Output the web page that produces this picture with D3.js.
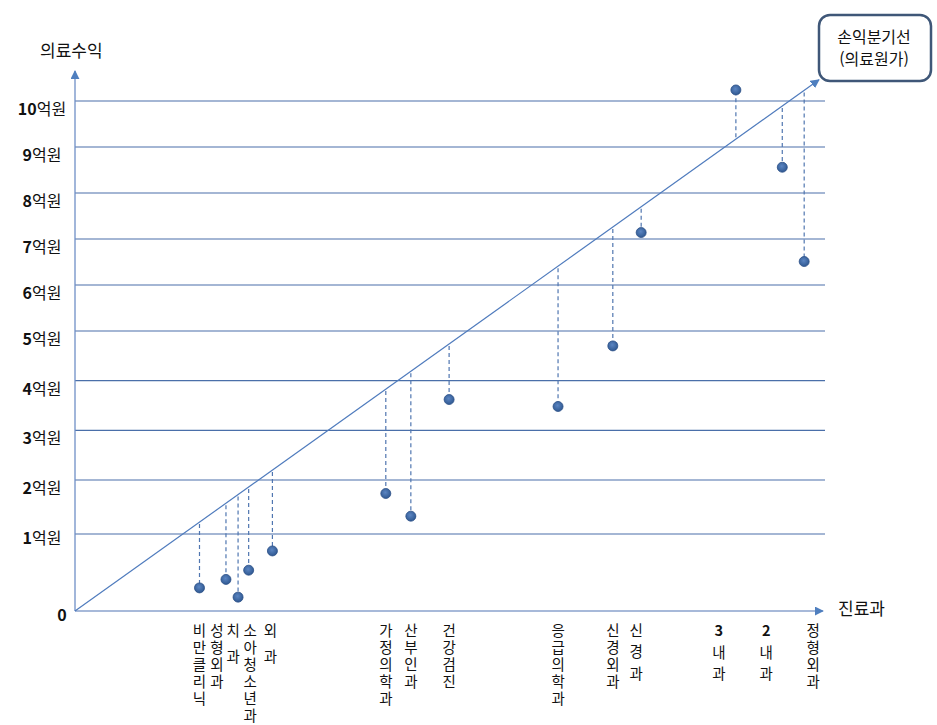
<!DOCTYPE html>
<html lang="ko">
<head>
<meta charset="utf-8">
<title>손익분기선</title>
<script src="https://d3js.org/d3.v7.min.js"></script>
<style>
body { margin: 0; background: #fff; }
text { font-family: "Noto Sans CJK KR", "Noto Sans", sans-serif; fill: #111; }
.vlabel { writing-mode: vertical-rl; text-orientation: upright; }
</style>
</head>
<body>
<div id="chart"></div>
<script>
// 진료과 (x 축 순서대로), 세로쓰기
const departments = ["비만클리닉", "성형외과", "치과", "소아청소년과", "외과",
  "가정의학과", "산부인과", "건강검진", "응급의학과", "신경외과", "신경과",
  "3내과", "2내과", "정형외과"];
// 의료원가 (억원) = 손익분기선 위 위치
const costs = [1.22, 1.57, 1.73, 1.87, 2.20, 3.83, 4.19, 4.74, 6.41, 7.26, 7.70, 9.17, 9.89, 10.23];
// 의료수익 (억원)
const revenues = [0.30, 0.41, 0.18, 0.53, 0.78, 1.75, 1.33, 3.62, 3.48, 4.70, 7.14, 10.24, 8.56, 6.51];
const yTicks = [0, 1, 2, 3, 4, 5, 6, 7, 8, 9, 10];
const lineEnd = 10.46;   // 손익분기선 화살표 끝

const width = 937, height = 725;
const x0 = 75, xAxisEnd = 823, gridEnd = 825, diagEndX = 819;

const svg = d3.select("#chart").append("svg")
  .attr("width", width).attr("height", height);

// 세로축 눈금 간격이 일정하지 않아 구간별 선형 스케일 사용
const y = d3.scaleLinear()
  .domain([0, 1, 2, 5, 10])
  .range([611, 534, 480, 331, 101]);

const y0 = y(0), yEnd = y(lineEnd);
// 손익분기선 위 원가 위치 -> x 픽셀
const x = d3.scaleLinear()
  .domain([y0, yEnd])
  .range([x0, diagEndX]);
const xOf = c => x(y(c));

const defs = svg.append("defs");
defs.append("marker").attr("id", "arr")
  .attr("viewBox", "0 0 10 10").attr("refX", 9).attr("refY", 5)
  .attr("markerWidth", 9).attr("markerHeight", 9)
  .attr("markerUnits", "userSpaceOnUse")
  .attr("orient", "auto")
  .append("path").attr("d", "M0,0L10,5L0,10z").attr("fill", "#4f7fbf");

const grad = defs.append("radialGradient").attr("id", "dot")
  .attr("cx", "45%").attr("cy", "40%").attr("r", "60%");
grad.append("stop").attr("offset", "0%").attr("stop-color", "#5b85c2");
grad.append("stop").attr("offset", "100%").attr("stop-color", "#2f5891");

// 가로 격자선
svg.append("g").selectAll("line")
  .data(yTicks.filter(d => d > 0))
  .join("line")
  .attr("x1", x0).attr("x2", gridEnd)
  .attr("y1", d => y(d)).attr("y2", d => y(d))
  .attr("stroke", "#4a6fa9").attr("stroke-width", 1.2);

// 축
svg.append("line")
  .attr("x1", x0).attr("y1", y0).attr("x2", x0).attr("y2", 71)
  .attr("stroke", "#6f8fc6").attr("stroke-width", 1.3)
  .attr("marker-end", "url(#arr)");
svg.append("line")
  .attr("x1", x0).attr("y1", y0).attr("x2", xAxisEnd).attr("y2", y0)
  .attr("stroke", "#8aa2cc").attr("stroke-width", 1.3)
  .attr("marker-end", "url(#arr)");

// 손익분기선
svg.append("line")
  .attr("x1", x0).attr("y1", y0).attr("x2", diagEndX).attr("y2", yEnd)
  .attr("stroke", "#4f7bbd").attr("stroke-width", 1.2)
  .attr("marker-end", "url(#arr)");

// 세로축 라벨
const yl = svg.append("g").selectAll("text")
  .data(yTicks)
  .join("text")
  .attr("x", d => d === 0 ? 62 : 42)
  .attr("y", d => y(d) + (d <= 1 ? 6 : 10))
  .attr("text-anchor", "middle")
  .attr("dominant-baseline", "middle")
  .attr("font-size", 16);
yl.append("tspan").attr("font-weight", "bold").text(d => d);
yl.filter(d => d > 0).append("tspan").text("억원");

svg.append("text").attr("x", 40).attr("y", 52)
  .attr("dominant-baseline", "middle").attr("font-size", 17).text("의료수익");
svg.append("text").attr("x", 838).attr("y", 610)
  .attr("dominant-baseline", "middle").attr("font-size", 17).text("진료과");

// 점선 (원가 -> 수익)
svg.append("g").selectAll("line")
  .data(departments)
  .join("line")
  .attr("x1", (d, i) => xOf(costs[i]))
  .attr("x2", (d, i) => xOf(costs[i]))
  .attr("y1", (d, i) => y(costs[i]) + (revenues[i] < costs[i] ? 2 : -2))
  .attr("y2", (d, i) => y(revenues[i]))
  .attr("stroke", "#5076b0").attr("stroke-width", 1.2)
  .attr("stroke-dasharray", "4,3");

// 점
svg.append("g").selectAll("circle")
  .data(departments)
  .join("circle")
  .attr("cx", (d, i) => xOf(costs[i]))
  .attr("cy", (d, i) => y(revenues[i]))
  .attr("r", 5)
  .attr("fill", "url(#dot)")
  .attr("stroke", "#2b4f86").attr("stroke-width", 0.8);

// 진료과 라벨 (세로쓰기)
const fs = 14.5;
const nudge = { "성형외과": -9, "치과": -5, "소아청소년과": 1.5, "신경과": -5, "3내과": -17, "2내과": -16, "정형외과": 9, "외과": -2 };
const spacing = n => n >= 4 ? 17 : n === 3 ? 21.5 : 26;
const lab = svg.append("g").selectAll("text")
  .data(departments)
  .join("text")
  .attr("class", "vlabel")
  .attr("x", (d, i) => xOf(costs[i]) + (nudge[d] || 0))
  .attr("y", 623)
  .attr("font-size", fs)
  .attr("letter-spacing", d => spacing(Array.from(d).length) - fs);
lab.each(function (d) {
  const m = d.match(/^(\d*)(.*)$/);
  const t = d3.select(this);
  if (m[1]) t.append("tspan").attr("font-weight", "bold").text(m[1]);
  t.append("tspan").text(m[2]);
});

// 범례 상자
svg.append("rect")
  .attr("x", 819).attr("y", 15).attr("width", 112).attr("height", 66)
  .attr("rx", 11).attr("ry", 11)
  .attr("fill", "#fff").attr("stroke", "#3f5778").attr("stroke-width", 2.5);
svg.append("text").attr("x", 874).attr("y", 39)
  .attr("text-anchor", "middle").attr("dominant-baseline", "middle")
  .attr("font-size", 16).text("손익분기선");
svg.append("text").attr("x", 874).attr("y", 61)
  .attr("text-anchor", "middle").attr("dominant-baseline", "middle")
  .attr("font-size", 16).text("(의료원가)");
</script>
</body>
</html>
